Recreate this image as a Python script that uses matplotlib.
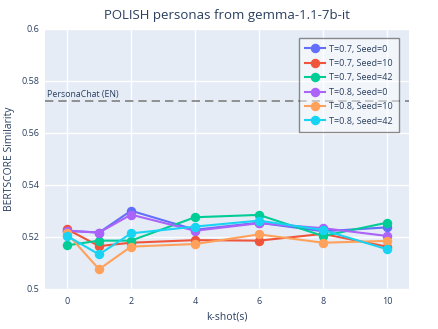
import matplotlib.pyplot as plt

# k-shot values
kshots = [0, 1, 2, 4, 6, 8, 10]

series_names = ["T=0.7, Seed=0", "T=0.7, Seed=10", "T=0.7, Seed=42",
                "T=0.8, Seed=0", "T=0.8, Seed=10", "T=0.8, Seed=42"]
t07_s0 = [0.5224, 0.5217, 0.5301, 0.5228, 0.5255, 0.5222, 0.5237]
t07_s10 = [0.5230, 0.5165, 0.5178, 0.5188, 0.5186, 0.5212, 0.5163]
t07_s42 = [0.5168, 0.5186, 0.5186, 0.5276, 0.5285, 0.5204, 0.5255]
t08_s0 = [0.5224, 0.5217, 0.5286, 0.5224, 0.5253, 0.5234, 0.5204]
t08_s10 = [0.5214, 0.5076, 0.5163, 0.5173, 0.5210, 0.5178, 0.5185]
t08_s42 = [0.5204, 0.5133, 0.5214, 0.5240, 0.5263, 0.5227, 0.5153]
all_series = [t07_s0, t07_s10, t07_s42, t08_s0, t08_s10, t08_s42]

baseline = 0.5723
baseline_label = "PersonaChat (EN)"

colors = ['#636efa', '#EF553B', '#00cc96', '#ab63fa', '#FFA15A', '#19d3f3']
txt = '#2a3f5f'

plt.rcParams['font.family'] = ['Open Sans', 'DejaVu Sans']

fig = plt.figure(figsize=(4.39, 3.29), dpi=100)
ax = fig.add_axes([45/439, 40/329, 364/439, 260/329])
ax.set_facecolor('#E5ECF6')

for name, vals, c in zip(series_names, all_series, colors):
    ax.plot(kshots, vals, color=c, lw=1.5, marker='o', markersize=5.8, label=name, zorder=3)

ax.axhline(baseline, color='gray', ls='--', lw=1.2, dashes=(5, 3), zorder=2)
ax.text(-0.62, baseline + 0.0008, baseline_label, fontsize=6.3, color=txt, va='bottom', ha='left')

ax.set_xlim(-0.69, 10.69)
ax.set_ylim(0.5, 0.6)
ax.set_xticks([0, 2, 4, 6, 8, 10])
ax.set_yticks([0.5, 0.52, 0.54, 0.56, 0.58, 0.6])
ax.set_yticklabels(['0.5', '0.52', '0.54', '0.56', '0.58', '0.6'])
ax.grid(True, color='white', lw=1)
ax.set_axisbelow(True)
for s in ax.spines.values():
    s.set_visible(False)
ax.tick_params(length=0, labelsize=6.5, colors=txt)
ax.tick_params(axis='x', pad=6)
ax.tick_params(axis='y', pad=4)

ax.set_title("POLISH personas from gemma-1.1-7b-it", fontsize=9.5, color=txt, pad=7)
fig.text(227/439, 1 - 317/329, "k-shot(s)", fontsize=7.5, color=txt, ha='center', va='center')
fig.text(10/439, 1 - 159/329, "BERTSCORE Similarity", fontsize=7.5, color=txt,
         ha='center', va='center', rotation=90)

leg = ax.legend(loc='upper right', bbox_to_anchor=(0.985, 0.982), fontsize=6.5,
                frameon=True, fancybox=False, handlelength=2.2, labelspacing=0.6,
                borderpad=0.7, handletextpad=0.4, labelcolor=txt)
leg.get_frame().set_edgecolor('#222222')
leg.get_frame().set_linewidth(1.0)
leg.get_frame().set_facecolor('white')
leg.get_frame().set_alpha(0.5)

fig.savefig('out.png', dpi=100)
